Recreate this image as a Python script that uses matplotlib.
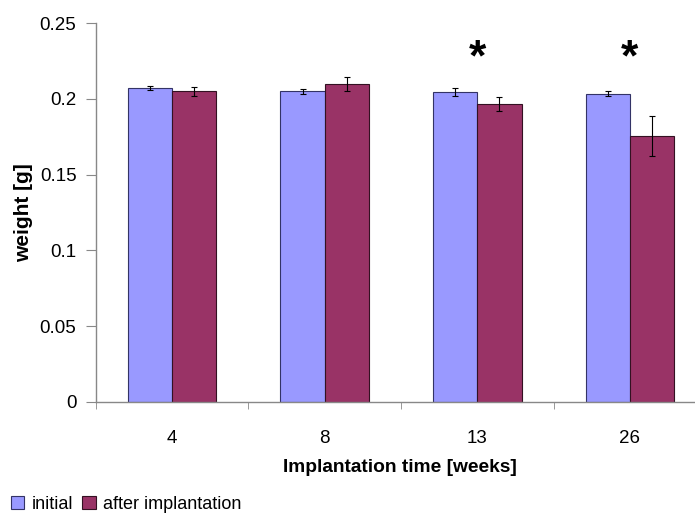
import numpy as np
import matplotlib
matplotlib.use('Agg')
import matplotlib.pyplot as plt

plt.rcParams.update({
    'font.family': ['Liberation Sans', 'DejaVu Sans'],
    'font.size': 13.5,
})

# ---- data ----
weeks = ['4', '8', '13', '26']
initial = [0.2071, 0.2050, 0.2045, 0.2036]
initial_err = [0.0015, 0.0018, 0.0025, 0.0015]
after = [0.2051, 0.2098, 0.1966, 0.1755]
after_err = [0.0030, 0.0045, 0.0048, 0.0132]
significant = [False, False, True, True]

c_init = '#9999FF'
c_after = '#993366'

fig = plt.figure(figsize=(6.95, 5.16), dpi=100)
ax = fig.add_axes([0.138, 0.221, 0.878, 0.734])

x = np.arange(len(weeks))
w = 0.29
err_kw = dict(ecolor='black', elinewidth=0.8, capsize=2.5, capthick=0.8)
ax.bar(x - w / 2, initial, w, yerr=initial_err, color=c_init,
       edgecolor='#333366', linewidth=0.8, error_kw=err_kw, label='initial')
ax.bar(x + w / 2, after, w, yerr=after_err, color=c_after,
       edgecolor='#331122', linewidth=0.8, error_kw=err_kw,
       label='after implantation')

# significance markers
for i, s in enumerate(significant):
    if s:
        ax.text(x[i], 0.2262, '*', ha='center', va='center',
                fontsize=32, fontweight='bold')

ax.set_xlim(-0.5, len(weeks) - 0.5)
ax.set_ylim(0, 0.25)
ax.set_yticks([0, 0.05, 0.1, 0.15, 0.2, 0.25])
ax.set_yticklabels(['0', '0.05', '0.1', '0.15', '0.2', '0.25'])

# category labels centred, ticks between categories
ax.set_xticks(x)
ax.set_xticklabels(weeks)
ax.tick_params(axis='x', which='major', length=0, pad=20)
ax.set_xticks(np.arange(len(weeks) + 1) - 0.5, minor=True)
ax.tick_params(axis='x', which='minor', length=5, color='#888888', direction='out')
ax.tick_params(axis='y', length=7, color='#888888', pad=7)

for sp in ['top', 'right']:
    ax.spines[sp].set_visible(False)
for sp in ['left', 'bottom']:
    ax.spines[sp].set_color('#888888')
    ax.spines[sp].set_linewidth(1.0)

ax.set_ylabel('weight [g]', fontweight='bold', fontsize=15)
ax.yaxis.set_label_coords(-(96 - 33) / (0.878 * 695), 0.5)
ax.set_xlabel('Implantation time [weeks]', fontweight='bold', fontsize=13.8)
ax.xaxis.set_label_coords((400 - 96) / (0.878 * 695), -0.15)

fig.legend(loc='lower left', bbox_to_anchor=(-0.008, -0.025), ncol=2, frameon=False,
           handlelength=0.75, handleheight=0.75, handletextpad=0.4, columnspacing=0.5,
           fontsize=13)

fig.savefig('out.png', dpi=100)
